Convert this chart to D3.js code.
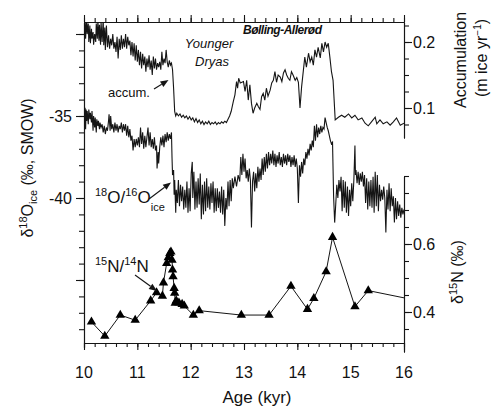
<!DOCTYPE html>
<html><head><meta charset="utf-8">
<script src="https://cdn.jsdelivr.net/npm/d3@7"></script>
<style>
html,body{margin:0;padding:0;background:#fff;}
svg{display:block;font-family:"Liberation Sans",Arial,Helvetica,sans-serif;}
</style></head><body>
<svg id="c" width="494" height="411"></svg>
<script>
// ---------------- data ----------------
const ageTicks = [10, 11, 12, 13, 14, 15, 16];
const o18Labels = [-35, -40];
const accLabels = [0.1, 0.2];
const n15Labels = [0.4, 0.6];

const accumulation = [
[10.00,0.215],[10.02,0.232],[10.03,0.205],[10.05,0.236],[10.06,0.212],[10.08,0.228],[10.09,0.200],[10.11,0.225],[10.12,0.198],[10.14,0.220],
[10.15,0.205],[10.17,0.215],[10.18,0.196],[10.20,0.212],[10.22,0.200],[10.23,0.228],[10.25,0.205],[10.26,0.234],[10.28,0.202],[10.29,0.226],
[10.31,0.196],[10.32,0.230],[10.34,0.200],[10.36,0.236],[10.37,0.195],[10.39,0.222],[10.40,0.188],[10.42,0.225],[10.44,0.192],[10.46,0.210],
[10.48,0.190],[10.50,0.205],[10.52,0.195],[10.54,0.212],[10.56,0.190],[10.58,0.200],[10.60,0.185],[10.62,0.208],[10.64,0.175],[10.66,0.205],
[10.68,0.188],[10.70,0.210],[10.72,0.190],[10.74,0.205],[10.76,0.192],[10.78,0.212],[10.80,0.190],[10.82,0.208],[10.84,0.195],[10.86,0.202],
[10.88,0.180],[10.90,0.200],[10.92,0.178],[10.94,0.198],[10.96,0.172],[10.98,0.195],[11.00,0.170],[11.02,0.188],[11.04,0.165],[11.06,0.185],
[11.08,0.160],[11.10,0.182],[11.12,0.165],[11.14,0.178],[11.16,0.155],[11.18,0.175],[11.20,0.162],[11.22,0.180],[11.24,0.158],[11.26,0.172],
[11.28,0.150],[11.30,0.178],[11.32,0.160],[11.34,0.175],[11.36,0.158],[11.38,0.168],[11.40,0.162],[11.42,0.170],[11.44,0.158],[11.46,0.185],
[11.48,0.165],[11.50,0.175],[11.52,0.168],[11.54,0.188],[11.56,0.170],[11.58,0.162],[11.60,0.172],[11.62,0.165],[11.64,0.168],[11.66,0.158],
[11.68,0.130],[11.70,0.095],[11.72,0.088],
[11.74,0.092],[11.77,0.088],[11.80,0.091],[11.83,0.086],[11.86,0.089],[11.89,0.085],[11.92,0.088],[11.95,0.083],[11.98,0.087],[12.01,0.082],
[12.04,0.085],[12.07,0.079],[12.10,0.084],[12.13,0.078],[12.16,0.082],[12.19,0.076],[12.22,0.080],[12.25,0.075],[12.28,0.079],[12.31,0.076],
[12.34,0.080],[12.37,0.075],[12.40,0.078],[12.43,0.076],[12.46,0.079],[12.49,0.075],[12.52,0.078],[12.55,0.076],[12.58,0.079],[12.61,0.077],
[12.64,0.080],[12.67,0.078],[12.70,0.083],[12.73,0.088],[12.76,0.095],[12.80,0.110],[12.83,0.120],[12.86,0.140],[12.88,0.130],[12.90,0.145],
[12.93,0.138],[12.99,0.140],[13.02,0.125],[13.05,0.142],[13.08,0.112],[13.11,0.135],[13.14,0.107],[13.17,0.092],[13.20,0.100],[13.24,0.107],
[13.27,0.102],[13.30,0.098],[13.33,0.117],[13.36,0.122],[13.39,0.112],[13.42,0.130],[13.45,0.118],[13.49,0.127],[13.52,0.138],[13.55,0.142],
[13.58,0.155],[13.61,0.139],[13.64,0.150],[13.68,0.147],[13.71,0.140],[13.74,0.153],[13.77,0.158],[13.80,0.150],[13.83,0.145],[13.86,0.142],
[13.89,0.155],[13.92,0.150],[13.96,0.142],[13.99,0.146],[14.02,0.139],[14.05,0.100],[14.08,0.132],[14.14,0.177],[14.17,0.162],[14.21,0.183],
[14.24,0.170],[14.27,0.177],[14.30,0.165],[14.33,0.188],[14.36,0.177],[14.39,0.192],[14.43,0.176],[14.46,0.198],[14.49,0.185],[14.52,0.200],
[14.55,0.192],[14.58,0.198],[14.61,0.177],[14.64,0.155],[14.67,0.142],[14.71,0.082],[14.77,0.086],[14.83,0.089],[14.89,0.086],[14.96,0.091],
[15.02,0.085],[15.08,0.089],[15.14,0.082],[15.21,0.085],[15.27,0.077],[15.33,0.073],[15.39,0.079],[15.46,0.086],[15.49,0.076],[15.55,0.082],
[15.61,0.076],[15.68,0.079],[15.74,0.074],[15.80,0.079],[15.86,0.085],[15.93,0.074],[16.00,0.077]
];

const oxygen18 = [
[10.00,-34.4],[10.01,-35.6],[10.02,-34.5],[10.03,-35.8],[10.04,-34.6],[10.05,-35.3],[10.06,-34.7],[10.08,-35.5],[10.09,-34.6],[10.11,-35.2],
[10.12,-34.8],[10.14,-35.4],[10.15,-34.7],[10.17,-35.9],[10.18,-35.0],[10.20,-35.7],[10.21,-35.1],[10.23,-36.0],[10.24,-35.2],[10.26,-35.6],
[10.27,-35.3],[10.29,-35.8],[10.30,-35.4],[10.32,-35.7],[10.34,-35.5],[10.36,-36.0],[10.38,-35.6],[10.40,-36.1],[10.42,-35.7],[10.44,-35.9],
[10.46,-35.3],[10.47,-34.9],[10.49,-35.9],[10.50,-35.0],[10.52,-35.8],[10.54,-35.5],[10.56,-36.0],[10.58,-35.4],[10.60,-35.9],[10.62,-35.5],
[10.64,-36.0],[10.66,-35.6],[10.68,-35.8],[10.70,-35.4],[10.72,-36.0],[10.74,-35.5],[10.76,-35.9],[10.78,-35.5],[10.80,-36.2],[10.82,-35.6],
[10.84,-36.3],[10.86,-35.8],[10.88,-36.5],[10.90,-36.2],[10.92,-37.1],[10.94,-36.4],[10.96,-36.9],[10.98,-36.4],[11.00,-36.8],[11.02,-36.3],
[11.04,-36.9],[11.06,-35.7],[11.08,-36.7],[11.10,-36.0],[11.12,-37.0],[11.14,-36.2],[11.16,-36.9],[11.18,-36.3],[11.20,-35.7],[11.22,-36.8],
[11.24,-36.0],[11.26,-36.9],[11.28,-36.4],[11.30,-37.0],[11.32,-36.3],[11.34,-37.1],[11.36,-36.8],[11.37,-38.2],[11.39,-37.2],[11.40,-37.9],
[11.42,-36.9],[11.44,-36.3],[11.46,-36.8],[11.48,-36.2],[11.50,-36.9],[11.52,-36.1],[11.54,-36.6],[11.56,-36.0],[11.58,-36.5],[11.60,-36.1],
[11.62,-36.4],[11.64,-36.0],[11.65,-37.5],[11.66,-38.6],[11.68,-38.3],[11.69,-39.8],[11.70,-38.9],[11.72,-40.9],[11.73,-39.5],[11.75,-40.3],
[11.77,-38.9],[11.79,-40.5],[11.81,-39.2],[11.83,-40.2],[11.85,-39.3],[11.87,-40.7],[11.89,-39.5],[11.91,-40.6],[11.93,-39.0],[11.95,-40.9],
[11.97,-39.4],[11.99,-40.8],[12.01,-38.5],[12.03,-37.8],[12.04,-40.0],[12.06,-38.4],[12.08,-40.7],[12.10,-39.0],[12.12,-40.6],[12.14,-38.8],
[12.16,-40.4],[12.18,-38.5],[12.20,-41.3],[12.22,-39.2],[12.24,-41.0],[12.26,-39.0],[12.28,-40.8],[12.30,-38.8],[12.32,-40.6],[12.34,-39.3],
[12.36,-40.7],[12.38,-39.1],[12.40,-40.3],[12.42,-39.0],[12.44,-40.9],[12.46,-39.4],[12.48,-40.8],[12.50,-39.4],[12.52,-40.6],[12.54,-39.6],
[12.56,-40.9],[12.58,-39.3],[12.60,-41.0],[12.62,-39.5],[12.64,-41.7],[12.66,-40.0],[12.68,-40.7],[12.70,-39.0],[12.72,-40.5],[12.74,-38.9],
[12.76,-40.2],[12.78,-38.8],[12.80,-39.4],[12.83,-38.7],[12.86,-39.3],[12.89,-38.6],[12.92,-39.0],[12.94,-37.5],[12.96,-38.6],[12.98,-37.3],
[13.00,-38.4],[13.02,-37.6],[13.04,-38.8],[13.06,-38.3],[13.08,-39.0],[13.10,-38.2],[13.12,-38.9],[13.14,-41.8],[13.16,-39.0],[13.18,-38.4],
[13.20,-39.6],[13.22,-38.5],[13.24,-39.4],[13.26,-38.1],[13.28,-39.0],[13.30,-38.2],[13.32,-38.9],[13.34,-37.6],[13.36,-38.6],[13.38,-37.5],
[13.40,-38.4],[13.42,-37.3],[13.44,-38.2],[13.46,-37.2],[13.48,-38.0],[13.50,-37.3],[13.52,-37.9],[13.54,-37.1],[13.56,-38.0],[13.58,-37.3],
[13.60,-38.1],[13.62,-37.4],[13.64,-37.9],[13.66,-37.2],[13.68,-38.0],[13.70,-37.5],[13.72,-38.1],[13.74,-37.3],[13.76,-37.9],[13.78,-37.4],
[13.80,-38.0],[13.82,-37.3],[13.84,-37.8],[13.86,-37.4],[13.88,-38.1],[13.90,-37.5],[13.92,-38.0],[13.94,-37.4],[13.96,-38.1],[13.98,-37.6],
[14.00,-38.2],[14.02,-40.3],[14.04,-38.0],[14.06,-38.7],[14.08,-37.8],[14.10,-38.5],[14.12,-37.6],[14.14,-38.0],[14.16,-37.2],[14.18,-37.6],
[14.20,-37.0],[14.22,-37.4],[14.24,-36.7],[14.26,-37.1],[14.28,-36.5],[14.30,-36.9],[14.32,-35.6],[14.34,-36.5],[14.36,-35.5],[14.38,-36.3],
[14.40,-35.7],[14.42,-36.1],[14.44,-35.6],[14.46,-36.0],[14.48,-35.7],[14.50,-35.8],[14.52,-35.1],[14.54,-35.4],[14.56,-35.7],[14.58,-35.9],
[14.60,-36.2],[14.62,-36.5],[14.64,-36.7],[14.66,-36.6],[14.68,-39.9],[14.70,-41.5],[14.72,-40.4],[14.74,-39.2],[14.76,-40.0],[14.78,-38.9],
[14.80,-39.6],[14.82,-38.7],[14.84,-40.8],[14.86,-38.9],[14.88,-40.6],[14.90,-39.0],[14.92,-40.9],[14.94,-39.3],[14.96,-41.1],[14.98,-39.5],
[15.00,-40.5],[15.02,-39.1],[15.04,-40.2],[15.06,-38.9],[15.08,-36.8],[15.09,-38.6],[15.10,-38.3],[15.12,-39.1],[15.14,-38.4],[15.16,-39.2],
[15.18,-38.5],[15.20,-39.0],[15.22,-38.4],[15.24,-39.3],[15.26,-38.6],[15.28,-40.3],[15.30,-38.8],[15.32,-40.7],[15.34,-39.0],[15.36,-40.5],
[15.38,-38.9],[15.40,-40.6],[15.42,-38.7],[15.44,-40.9],[15.46,-38.4],[15.48,-40.5],[15.50,-38.6],[15.52,-40.8],[15.54,-39.2],[15.56,-40.2],
[15.58,-39.5],[15.60,-40.1],[15.62,-39.3],[15.64,-40.0],[15.66,-42.1],[15.68,-39.5],[15.70,-40.7],[15.72,-39.1],[15.74,-40.8],[15.76,-39.4],
[15.78,-40.5],[15.80,-39.9],[15.82,-41.5],[15.84,-40.0],[15.86,-41.3],[15.88,-40.2],[15.90,-41.1],[15.92,-40.4],[15.94,-41.2],[15.96,-40.6],
[15.98,-41.0],[16.00,-40.7]
];

const nitrogen15 = [
[10.14,0.371],[10.39,0.329],[10.68,0.391],[10.96,0.376],[11.25,0.433],[11.36,0.457],[11.47,0.447],[11.49,0.486],[11.55,0.543],[11.58,0.560],
[11.61,0.573],[11.63,0.577],[11.65,0.553],[11.66,0.524],[11.67,0.504],[11.69,0.470],[11.70,0.456],[11.71,0.426],[11.73,0.433],[11.78,0.427],
[11.84,0.423],[11.88,0.418],[12.05,0.391],[12.16,0.404],[12.95,0.391],[13.47,0.391],[13.88,0.476],[14.19,0.408],[14.31,0.440],[14.54,0.519],
[14.66,0.620],[15.08,0.416],[15.33,0.463],[16.05,0.440]
];

// ---------------- layout ----------------
const svg = d3.select('#c');
const L = 84, R = 404, T = 22, B = 343;
const ink = '#151515';

const x = d3.scaleLinear().domain([10, 16]).range([L, R]);
const yO = d3.scaleLinear().domain([-35, -40]).range([116, 198]);
const yA = d3.scaleLinear().domain([0.1, 0.2]).range([108, 42]);
const yN = d3.scaleLinear().domain([0.4, 0.6]).range([312, 244]);

// extended scales for the spines
const yOfull = yO.copy().domain([yO.invert(T), yO.invert(348)]).range([T, 348]);
const yAfull = yA.copy().domain([yA.invert(T), yA.invert(138)]).range([T, 138]);
const yNfull = yN.copy().domain([yN.invert(176), yN.invert(352)]).range([176, 352]);

const defs = svg.append('defs');
defs.append('clipPath').attr('id', 'plot').append('rect')
  .attr('x', L).attr('y', T).attr('width', R - L).attr('height', B - T);

function styleAxis(g) {
  g.selectAll('path,line').attr('stroke', ink).attr('stroke-width', 1.1);
  g.selectAll('text').remove();
}

const minorAge = d3.range(0, 31).map(i => 10 + i * 0.2);
// bottom axis
svg.append('g').attr('transform', `translate(0,${B})`)
  .call(d3.axisBottom(x).tickValues(minorAge).tickSize(4).tickSizeOuter(0)).call(styleAxis);
svg.append('g').attr('transform', `translate(0,${B})`)
  .call(d3.axisBottom(x).tickValues(ageTicks).tickSize(7).tickSizeOuter(0)).call(styleAxis);
// top axis
svg.append('g').attr('transform', `translate(0,${T})`)
  .call(d3.axisTop(x).tickValues(minorAge).tickSize(4).tickSizeOuter(0)).call(styleAxis);
svg.append('g').attr('transform', `translate(0,${T})`)
  .call(d3.axisTop(x).tickValues(ageTicks).tickSize(7).tickSizeOuter(0)).call(styleAxis);

// left axis (d18O)
const oMinor = d3.range(-30, -49, -1);
svg.append('g').attr('transform', `translate(${L},0)`)
  .call(d3.axisLeft(yOfull).tickValues(oMinor).tickSize(5).tickSizeOuter(0)).call(styleAxis);
svg.append('g').attr('transform', `translate(${L},0)`)
  .call(d3.axisLeft(yOfull).tickValues([-30, -35, -40, -45]).tickSize(8).tickSizeOuter(0)).call(styleAxis);

// right upper axis (accumulation)
const aMinor = d3.range(3, 10).map(i => i * 0.025);
svg.append('g').attr('transform', `translate(${R},0)`)
  .call(d3.axisRight(yAfull).tickValues(aMinor).tickSize(5).tickSizeOuter(0)).call(styleAxis);
svg.append('g').attr('transform', `translate(${R},0)`)
  .call(d3.axisRight(yAfull).tickValues(accLabels).tickSize(8).tickSizeOuter(0)).call(styleAxis);

// right lower axis (d15N)
const nMinor = d3.range(7, 17).map(i => i * 0.05);
svg.append('g').attr('transform', `translate(${R},0)`)
  .call(d3.axisRight(yNfull).tickValues(nMinor).tickSize(5).tickSizeOuter(0)).call(styleAxis);
svg.append('g').attr('transform', `translate(${R},0)`)
  .call(d3.axisRight(yNfull).tickValues(n15Labels).tickSize(8).tickSizeOuter(0)).call(styleAxis);

// ---------------- tick labels ----------------
const lab = svg.append('g').attr('fill', '#111').attr('font-size', 16);
lab.selectAll('.bx').data(ageTicks).join('text')
  .attr('x', d => x(d)).attr('y', 378).attr('text-anchor', 'middle').text(d => d);
lab.selectAll('.lo').data(o18Labels).join('text')
  .attr('x', 72).attr('y', d => yO(d) + 6).attr('text-anchor', 'end').text(d => String(d));
lab.selectAll('.ra').data(accLabels).join('text')
  .attr('x', 413).attr('y', d => yA(d) + 6).text(d => d.toFixed(1));
lab.selectAll('.rn').data(n15Labels).join('text')
  .attr('x', 413).attr('y', d => yN(d) + 6).text(d => d.toFixed(1));

// ---------------- axis titles ----------------
lab.append('text').attr('x', 257).attr('y', 403).attr('text-anchor', 'middle')
  .attr('font-size', 17).text('Age (kyr)');

const lt = lab.append('text').attr('transform', 'translate(33,168) rotate(-90)')
  .attr('text-anchor', 'middle').attr('font-size', 16);
lt.append('tspan').text('δ');
lt.append('tspan').attr('font-size', 11).attr('dy', -6).text('18');
lt.append('tspan').attr('dy', 6).text('O');
lt.append('tspan').attr('font-size', 11).attr('dy', 4).text('ice');
lt.append('tspan').attr('dy', -4).text(' (‰, SMOW)');

lab.append('text').attr('transform', 'translate(466,60) rotate(-90)')
  .attr('text-anchor', 'middle').attr('font-size', 16).text('Accumulation');
const rt = lab.append('text').attr('transform', 'translate(487,58) rotate(-90)')
  .attr('text-anchor', 'middle').attr('font-size', 16);
rt.append('tspan').text('(m ice yr');
rt.append('tspan').attr('font-size', 10).attr('dy', -6).text('−1');
rt.append('tspan').attr('dy', 6).text(')');

const nt = lab.append('text').attr('transform', 'translate(463,272) rotate(-90)')
  .attr('text-anchor', 'middle').attr('font-size', 16);
nt.append('tspan').text('δ');
nt.append('tspan').attr('font-size', 11).attr('dy', -6).text('15');
nt.append('tspan').attr('dy', 6).text('N (‰)');

// ---------------- series ----------------
const plot = svg.append('g').attr('clip-path', 'url(#plot)');
plot.append('path').datum(accumulation)
  .attr('d', d3.line().x(d => x(d[0])).y(d => yA(d[1])))
  .attr('fill', 'none').attr('stroke', ink).attr('stroke-width', 1.1);
plot.append('path').datum(oxygen18)
  .attr('d', d3.line().x(d => x(d[0])).y(d => yO(d[1])))
  .attr('fill', 'none').attr('stroke', ink).attr('stroke-width', 1.1);
plot.append('path').datum(nitrogen15)
  .attr('d', d3.line().x(d => x(d[0])).y(d => yN(d[1])))
  .attr('fill', 'none').attr('stroke', ink).attr('stroke-width', 1);
const tri = d3.symbol().type(d3.symbolTriangle).size(38);
svg.append('g').selectAll('path').data(nitrogen15.filter(d => d[0] <= 16)).join('path')
  .attr('transform', d => `translate(${x(d[0])},${yN(d[1])})`)
  .attr('d', tri).attr('fill', '#000');

// ---------------- annotations ----------------
const ann = svg.append('g').attr('fill', '#111');
ann.append('text').attr('x', 209).attr('y', 48).attr('text-anchor', 'middle')
  .attr('font-size', 13).attr('font-style', 'italic').text('Younger');
ann.append('text').attr('x', 212).attr('y', 66).attr('text-anchor', 'middle')
  .attr('font-size', 13).attr('font-style', 'italic').text('Dryas');
ann.append('text').attr('x', 243).attr('y', 34)
  .attr('font-size', 12).attr('font-style', 'italic').attr('font-weight', 'bold')
  .attr('letter-spacing', -0.5).text('Bølling-Allerød');
ann.append('text').attr('x', 108).attr('y', 97).attr('font-size', 13).text('accum.');

const ot = ann.append('text').attr('x', 95).attr('y', 203).attr('font-size', 17);
ot.append('tspan').attr('font-size', 11).attr('dy', -7).text('18');
ot.append('tspan').attr('dy', 7).text('O/');
ot.append('tspan').attr('font-size', 11).attr('dy', -7).text('16');
ot.append('tspan').attr('dy', 7).text('O');
ot.append('tspan').attr('font-size', 11).attr('dy', 8).text('ice');

const nn = ann.append('text').attr('x', 95).attr('y', 272).attr('font-size', 17);
nn.append('tspan').attr('font-size', 11).attr('dy', -7).text('15');
nn.append('tspan').attr('dy', 7).text('N/');
nn.append('tspan').attr('font-size', 11).attr('dy', -7).text('14');
nn.append('tspan').attr('dy', 7).text('N');

function arrow(x1, y1, x2, y2) {
  const a = Math.atan2(y2 - y1, x2 - x1), len = 8, w = 3.2;
  const bx = x2 - len * Math.cos(a), by = y2 - len * Math.sin(a);
  svg.append('line').attr('x1', x1).attr('y1', y1).attr('x2', bx).attr('y2', by)
    .attr('stroke', ink).attr('stroke-width', 1.1);
  svg.append('path').attr('d', `M${x2},${y2}L${bx - w * Math.sin(a)},${by + w * Math.cos(a)}L${bx + w * Math.sin(a)},${by - w * Math.cos(a)}Z`)
    .attr('fill', ink);
}
arrow(154, 89, 168.5, 80);
arrow(149, 199, 171, 182.5);
arrow(135, 275, 157, 291);
</script>
</body></html>
